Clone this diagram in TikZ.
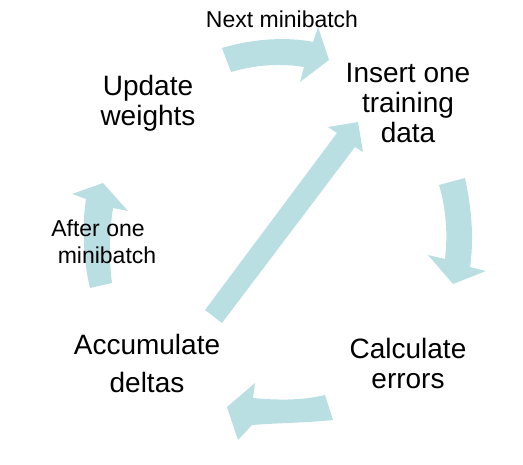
\documentclass[tikz,border=0pt]{standalone}
\usepackage{fontspec}
\setmainfont{Liberation Sans}
\begin{document}
\begin{tikzpicture}[x=1pt,y=-1pt,
  blk/.style={fill=arrowc,draw=none},
  big/.style={font=\fontsize{28}{30}\selectfont,align=center,inner sep=0pt},
  small/.style={font=\fontsize{23}{27}\selectfont,align=center,inner sep=0pt}]
\definecolor{arrowc}{RGB}{185,223,227}
\useasboundingbox (0,0) rectangle (523,464);
% block arrows
\fill[blk] (222,48) .. controls (255,38) and (290,37) .. (313,42) -- (318,27) -- (329,60) -- (300,82) -- (304,67) .. controls (280,63) and (255,65) .. (231,72) -- cycle;
\fill[blk] (439,185) -- (465,178) .. controls (472,210) and (474,240) .. (470,267) -- (486,271) -- (453,284) -- (428,255) -- (445,259) .. controls (448,235) and (446,208) .. (439,185) -- cycle;
\fill[blk] (325,395) .. controls (300,401) and (275,400) .. (253,398) -- (255,383) -- (227,407) -- (238,440) -- (252,425) .. controls (275,423) and (305,423) .. (333,420) -- cycle;
\fill[blk] (90,288) .. controls (83,260) and (82,225) .. (86,199) -- (72,194) -- (103,183) -- (128,211) -- (113,208) .. controls (109,235) and (109,260) .. (112,283) -- cycle;
\fill[blk] (205,310) -- (337,133) -- (328,127) -- (358,122) -- (363,152) -- (355,147) -- (222,323) -- cycle;
% labels
\node[small] (next) at (282,19) {Next minibatch};
\node[big] (upd) at (148,103) {Update\\weights};
\node[big] (ins) at (408,103) {Insert one\\training\\data};
\node[small] (after) at (102.5,242) {After one\hspace*{9pt}\\\hspace*{9pt}minibatch};
\node[big] (calc) at (408,363) {Calculate\\errors};
\node[big] (acc) at (147,363) {Accumulate\\[8pt]deltas};
\end{tikzpicture}
\end{document}
